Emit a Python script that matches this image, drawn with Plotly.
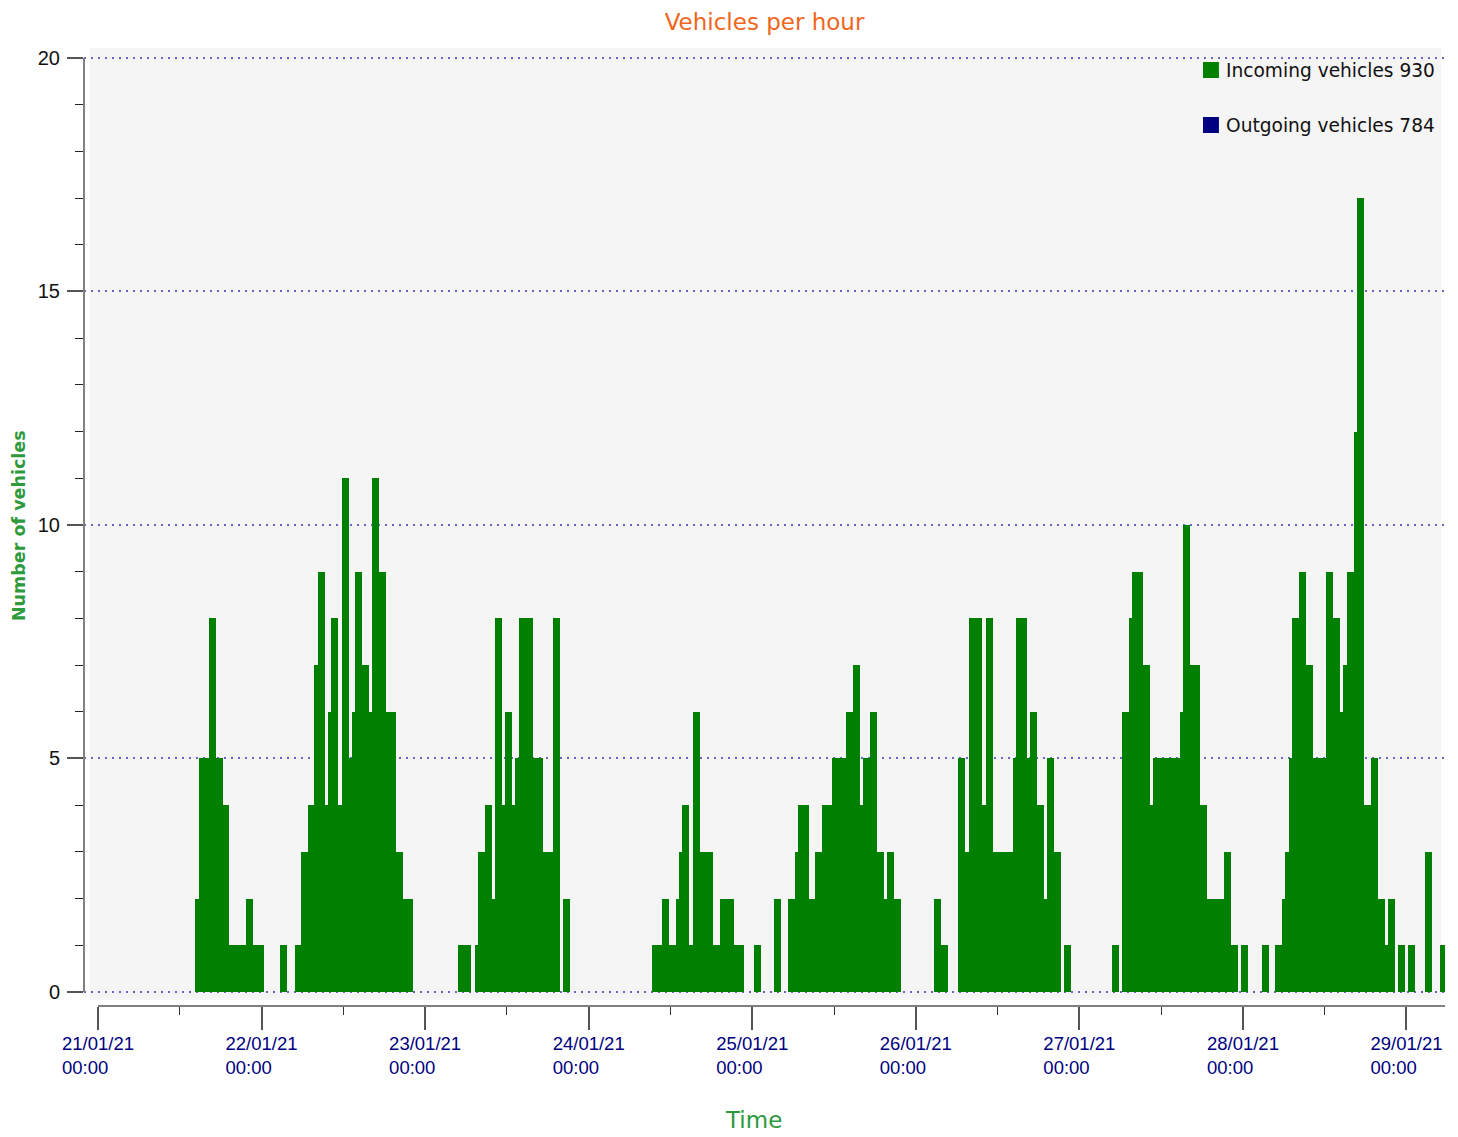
import plotly.graph_objects as go

# ---------------- data ----------------
times = [
    # 21/01
    "2021-01-21 14:14", "2021-01-21 14:49", "2021-01-21 15:17", "2021-01-21 16:17", "2021-01-21 17:19",
    "2021-01-21 17:45", "2021-01-21 18:13", "2021-01-21 19:13", "2021-01-21 20:15", "2021-01-21 20:43",
    "2021-01-21 21:43", "2021-01-21 22:45", "2021-01-21 23:22",
    # 22/01
    "2021-01-22 02:42", "2021-01-22 04:54", "2021-01-22 05:47", "2021-01-22 06:49", "2021-01-22 07:42",
    "2021-01-22 08:17", "2021-01-22 09:18", "2021-01-22 09:45", "2021-01-22 10:11", "2021-01-22 11:13",
    "2021-01-22 11:48", "2021-01-22 12:50", "2021-01-22 13:16", "2021-01-22 13:43", "2021-01-22 14:44",
    "2021-01-22 15:20", "2021-01-22 15:46", "2021-01-22 16:12", "2021-01-22 17:14", "2021-01-22 18:16",
    "2021-01-22 18:44", "2021-01-22 19:44", "2021-01-22 20:45", "2021-01-22 21:13",
    # 23/01
    "2021-01-23 04:49", "2021-01-23 05:44", "2021-01-23 07:19", "2021-01-23 07:46", "2021-01-23 08:47",
    "2021-01-23 09:49", "2021-01-23 10:15", "2021-01-23 11:17", "2021-01-23 11:43", "2021-01-23 12:45",
    "2021-01-23 13:11", "2021-01-23 13:47", "2021-01-23 14:50", "2021-01-23 15:50", "2021-01-23 16:18",
    "2021-01-23 17:18", "2021-01-23 17:46", "2021-01-23 18:46", "2021-01-23 20:14",
    # 24/01
    "2021-01-24 09:17", "2021-01-24 09:46", "2021-01-24 10:45", "2021-01-24 11:47", "2021-01-24 12:49",
    "2021-01-24 13:15", "2021-01-24 13:42", "2021-01-24 14:43", "2021-01-24 15:18", "2021-01-24 16:20",
    "2021-01-24 16:46", "2021-01-24 17:13", "2021-01-24 18:14", "2021-01-24 19:16", "2021-01-24 20:19",
    "2021-01-24 21:19", "2021-01-24 21:47",
    # 25/01
    "2021-01-25 00:15", "2021-01-25 03:11", "2021-01-25 05:14", "2021-01-25 06:16", "2021-01-25 06:43",
    "2021-01-25 07:19", "2021-01-25 08:19", "2021-01-25 09:12", "2021-01-25 10:14", "2021-01-25 10:42",
    "2021-01-25 11:42", "2021-01-25 12:45", "2021-01-25 13:45", "2021-01-25 14:47", "2021-01-25 15:48",
    "2021-01-25 16:15", "2021-01-25 17:16", "2021-01-25 18:18", "2021-01-25 19:20", "2021-01-25 19:46",
    "2021-01-25 20:48",
    # 26/01
    "2021-01-26 02:40", "2021-01-26 03:42", "2021-01-26 06:11", "2021-01-26 07:13", "2021-01-26 07:48",
    "2021-01-26 08:43", "2021-01-26 09:42", "2021-01-26 10:18", "2021-01-26 11:19", "2021-01-26 12:19",
    "2021-01-26 13:16", "2021-01-26 14:15", "2021-01-26 14:42", "2021-01-26 15:19", "2021-01-26 16:19",
    "2021-01-26 16:45", "2021-01-26 17:47", "2021-01-26 18:48", "2021-01-26 19:15", "2021-01-26 20:16",
    "2021-01-26 21:44",
    # 27/01
    "2021-01-27 04:47", "2021-01-27 06:15", "2021-01-27 07:17", "2021-01-27 07:43", "2021-01-27 08:20",
    "2021-01-27 09:20", "2021-01-27 10:13", "2021-01-27 10:48", "2021-01-27 11:48", "2021-01-27 12:48",
    "2021-01-27 13:46", "2021-01-27 14:46", "2021-01-27 15:12", "2021-01-27 16:14", "2021-01-27 16:42",
    "2021-01-27 17:42", "2021-01-27 18:43", "2021-01-27 19:19", "2021-01-27 19:45", "2021-01-27 20:13",
    "2021-01-27 21:13", "2021-01-27 22:15", "2021-01-27 23:43",
    # 28/01
    "2021-01-28 02:48", "2021-01-28 04:42", "2021-01-28 05:44", "2021-01-28 06:10", "2021-01-28 06:46",
    "2021-01-28 07:12", "2021-01-28 08:14", "2021-01-28 09:15", "2021-01-28 09:42", "2021-01-28 10:17",
    "2021-01-28 10:43", "2021-01-28 11:12", "2021-01-28 12:11", "2021-01-28 13:13", "2021-01-28 14:15",
    "2021-01-28 14:41", "2021-01-28 15:16", "2021-01-28 16:18", "2021-01-28 16:44", "2021-01-28 17:46",
    "2021-01-28 18:48", "2021-01-28 19:49", "2021-01-28 20:16", "2021-01-28 21:17", "2021-01-28 22:45",
    # 29/01
    "2021-01-29 00:13", "2021-01-29 02:43", "2021-01-29 04:53",
]

incoming = [
    # 21/01
    2, 5, 5, 8, 5, 4, 4, 1, 1, 1, 2, 1, 1,
    # 22/01
    1, 1, 3, 4, 7, 9, 4, 6, 8, 4, 11, 5, 6, 9, 7, 5, 6, 11, 9, 6, 6, 3, 2, 2,
    # 23/01
    1, 1, 1, 3, 4, 2, 8, 4, 6, 4, 5, 8, 8, 5, 5, 3, 3, 8, 2,
    # 24/01
    1, 1, 2, 1, 2, 3, 4, 1, 6, 3, 2, 3, 1, 2, 2, 1, 1,
    # 25/01
    1, 2, 2, 3, 4, 4, 2, 3, 4, 4, 5, 5, 6, 7, 4, 5, 6, 3, 2, 3, 2,
    # 26/01
    2, 1, 5, 3, 8, 8, 4, 8, 3, 3, 3, 5, 8, 8, 5, 6, 4, 2, 5, 3, 1,
    # 27/01
    1, 6, 8, 9, 9, 7, 4, 5, 5, 5, 5, 6, 10, 7, 7, 4, 2, 1, 2, 2, 3, 1, 1,
    # 28/01
    1, 1, 2, 3, 5, 8, 9, 7, 5, 4, 5, 5, 9, 8, 6, 7, 9, 12, 17, 4, 5, 2, 1, 2, 1,
    # 29/01
    1, 3, 1,
]

incoming_total = 930
outgoing_total = 784
series_names = [f"Incoming vehicles {incoming_total}", f"Outgoing vehicles {outgoing_total}"]

days = ["2021-01-21", "2021-01-22", "2021-01-23", "2021-01-24", "2021-01-25",
        "2021-01-26", "2021-01-27", "2021-01-28", "2021-01-29"]
day_labels = ["21/01/21", "22/01/21", "23/01/21", "24/01/21", "25/01/21",
              "26/01/21", "27/01/21", "28/01/21", "29/01/21"]
time_label = "00:00"
half_days = [d + " 12:00" for d in days[:-1]]

y_ticks = [0, 5, 10, 15, 20]
x_range = ["2021-01-20 21:57", "2021-01-29 05:39"]
y_range = [-0.30, 20.214]

HOUR_MS = 3600 * 1000
GREEN = "#008000"
NAVY = "#000080"
TITLE_GREEN = "#2E9A3C"

ticktext = [d + "<br>" + time_label + "\u00a0" * 5 for d in day_labels]

fig = go.Figure()
fig.add_trace(go.Bar(
    x=times, y=incoming, width=HOUR_MS, offset=0,
    marker=dict(color=GREEN, line=dict(width=0)),
    name=series_names[0], showlegend=False,
))
fig.add_trace(go.Bar(
    x=[days[0]], y=[0], width=HOUR_MS, offset=0,
    marker=dict(color=NAVY, line=dict(width=0)),
    name=series_names[1], showlegend=False,
))

fig.update_layout(
    width=1450, height=1129,
    margin=dict(l=76, r=13, t=40, b=131),
    paper_bgcolor="white", plot_bgcolor="white",
    barmode="overlay", bargap=0,
    title=dict(text="Vehicles per hour", x=0.5, xref="paper", y=1 - 14 / 1129,
               yref="container", xanchor="center", yanchor="middle",
               font=dict(family="DejaVu Sans", size=23, color="#F0661E")),
    showlegend=False,
    font=dict(family="Liberation Sans"),
)

fig.update_xaxes(
    type="date", range=x_range, showline=False, zeroline=False, showgrid=False,
    tickmode="array", tickvals=days, ticktext=ticktext,
    ticks="outside", ticklen=23, tickwidth=2, tickcolor="#555",
    ticklabelstandoff=-2,
    tickfont=dict(family="Liberation Sans", size=18.5, color=NAVY),
    minor=dict(tickmode="array", tickvals=half_days, ticks="outside", ticklen=8,
               tickwidth=1, tickcolor="#333", showgrid=False),
)
fig.update_yaxes(
    range=y_range, showline=False, zeroline=False,
    tickmode="array", tickvals=y_ticks,
    showgrid=True, gridcolor="#6666C8", gridwidth=2, griddash="2px,5px",
    ticks="outside", ticklen=16, tickwidth=2, tickcolor="#555",
    ticklabelstandoff=3,
    tickfont=dict(family="Liberation Sans", size=20, color="#111"),
    minor=dict(dtick=1, ticks="outside", ticklen=8, tickwidth=1, tickcolor="#222", showgrid=False),
)

# plot wall and axis lines
fig.add_shape(type="rect", xref="paper", yref="paper", x0=0.0044, x1=0.997, y0=0.0063, y1=1,
              fillcolor="#F5F5F5", line=dict(width=0), layer="below")
fig.add_shape(type="line", xref="x", yref="paper", x0=days[0], x1=x_range[1], y0=0, y1=0,
              line=dict(color="#808080", width=2))
fig.add_shape(type="line", xref="paper", yref="y", x0=0, x1=0, y0=y_ticks[0], y1=y_ticks[-1],
              line=dict(color="#808080", width=2))

# legend (squares + labels)
legend_colors = [GREEN, NAVY]
legend_rows = [(0.9687, 0.9854, 0.9760), (0.9113, 0.9280, 0.9196)]
for name, color, (y0, y1, yt) in zip(series_names, legend_colors, legend_rows):
    fig.add_shape(type="rect", xref="paper", yref="paper", x0=0.8222, x1=0.8339, y0=y0, y1=y1,
                  fillcolor=color, line=dict(width=0))
    fig.add_annotation(text=name, xref="paper", yref="paper", x=0.8376, y=yt,
                       xanchor="left", yanchor="middle", showarrow=False,
                       font=dict(family="DejaVu Sans", size=18.6, color="#111"))

# axis titles
fig.add_annotation(text="Time", xref="paper", yref="paper", x=0.4916, y=-0.119,
                   xanchor="center", yanchor="middle", showarrow=False,
                   font=dict(family="DejaVu Sans", size=23, color=TITLE_GREEN))
fig.add_annotation(text="<b>Number of vehicles</b>", xref="paper", yref="paper", x=-0.0478, y=0.502,
                   xanchor="center", yanchor="middle", showarrow=False, textangle=-90,
                   font=dict(family="DejaVu Sans", size=17.5, color=TITLE_GREEN))

fig.write_html("out.html")
